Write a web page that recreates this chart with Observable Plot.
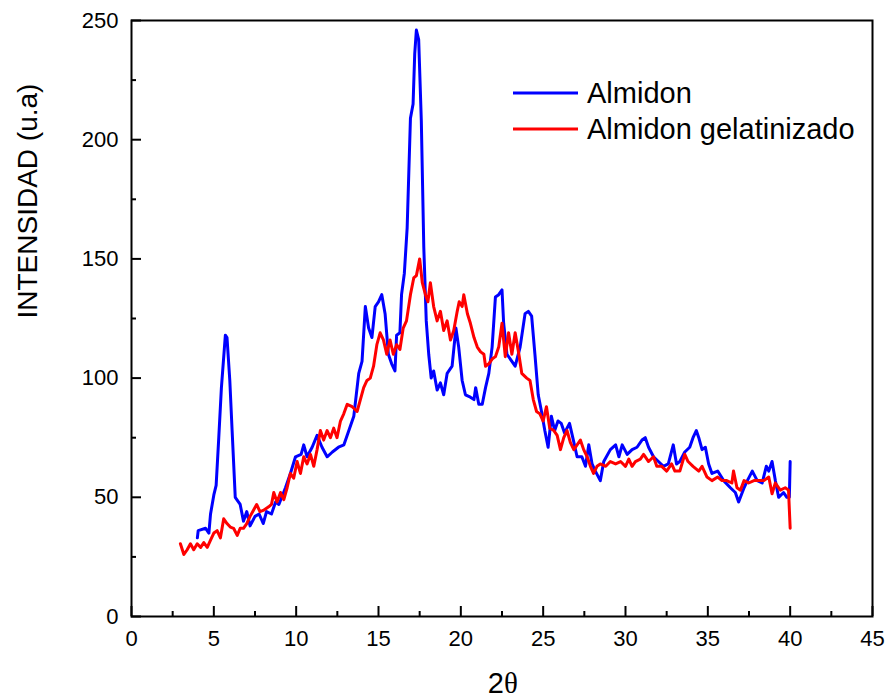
<!DOCTYPE html>
<html><head><meta charset="utf-8">
<script src="https://cdn.jsdelivr.net/npm/d3@7"></script>
<script src="https://cdn.jsdelivr.net/npm/@observablehq/plot@0.6"></script>
<style>
body{margin:0;background:#fff;}
#wrap{position:relative;width:888px;height:698px;}
#legend{position:absolute;left:0;top:0;}
</style></head><body><div id="wrap"><div id="chart"></div><svg id="legend" width="888" height="200"></svg></div>
<script>
const seriesNames = ["Almidon", "Almidon gelatinizado"];
const seriesColors = ["#0000ff", "#ff0000"];

const almidonX = [4.0,4.05,4.5,4.7,4.8,5.0,5.14,5.3,5.46,5.7,5.8,5.97,6.11,6.3,6.6,6.8,7.0,7.2,7.5,7.75,8.0,8.2,8.5,8.75,8.95,9.35,9.65,9.96,10.3,10.46,10.66,10.97,11.27,11.57,11.88,12.2,12.57,12.9,13.2,13.5,13.8,14.0,14.2,14.4,14.6,14.8,15.0,15.2,15.4,15.6,15.8,16.0,16.1,16.3,16.4,16.57,16.74,16.94,17.1,17.2,17.3,17.44,17.6,17.75,17.9,18.05,18.2,18.35,18.56,18.76,18.96,19.17,19.47,19.7,19.87,20.08,20.28,20.58,20.8,20.9,21.09,21.3,21.5,21.7,21.9,22.1,22.3,22.5,22.6,22.8,23.1,23.3,23.6,23.9,24.1,24.3,24.5,24.7,24.9,25.1,25.3,25.5,25.7,25.9,26.1,26.3,26.6,26.8,27.06,27.35,27.57,27.77,27.97,28.17,28.47,28.68,29.08,29.4,29.6,29.8,30.1,30.4,30.7,31.0,31.2,31.4,31.7,32.0,32.3,32.6,32.9,33.1,33.3,33.6,33.9,34.1,34.3,34.45,34.65,34.85,35.05,35.25,35.6,35.96,36.37,36.67,36.87,37.2,37.4,37.7,38.0,38.3,38.55,38.7,38.9,39.1,39.3,39.6,39.8,39.95,40.0];
const almidonY = [33,36,37,35,43,51,55,75,96,118,117,99,78,50,47,40,44,38,42,43,39,44,43,48,47,54,60,67,68,72,67,71,76,71,67,69,71,72,78,84,102,107,130,121,117,130,132,135,127,110,106,103,118,119,135,144,163,209,215,236,246,242,208,155,124,110,100,103,95,98,93,102,105,121,113,99,93,92,91,96,89,89,96,102,113,134,135,137,123,110,107,105,113,127,128,126,110,93,86,78,71,84,78,82,81,77,81,75,67,67,63,72,64,61,57,65,70,72,67,72,68,70,71,74,75,71,67,65,63,64,72,64,65,69,71,75,78,75,70,71,64,60,61,57,54,52,48,54,57,61,57,56,63,61,65,57,50,52,50,50,65];

const gelX = [2.97,3.18,3.38,3.58,3.78,3.99,4.2,4.39,4.6,4.8,5.0,5.2,5.4,5.6,5.8,6.0,6.2,6.42,6.6,6.8,7.0,7.2,7.4,7.6,7.8,8.0,8.33,8.5,8.64,8.84,9.05,9.25,9.45,9.65,9.85,10.06,10.26,10.46,10.66,10.87,11.07,11.27,11.47,11.67,11.88,12.08,12.28,12.48,12.69,12.89,13.1,13.4,13.7,13.9,14.1,14.3,14.5,14.7,14.9,15.1,15.3,15.5,15.7,15.9,16.1,16.3,16.5,16.7,16.94,17.14,17.3,17.5,17.66,17.85,18.0,18.15,18.35,18.56,18.76,18.96,19.17,19.37,19.57,19.78,19.9,20.08,20.18,20.4,20.58,20.8,21.0,21.2,21.4,21.5,21.7,21.9,22.1,22.3,22.5,22.7,22.9,23.1,23.3,23.5,23.7,24.0,24.2,24.4,24.6,24.8,25.0,25.2,25.4,25.65,25.85,26.05,26.25,26.45,26.65,26.86,27.06,27.26,27.46,27.67,27.87,28.06,28.27,28.47,28.8,29.08,29.4,29.7,30.0,30.2,30.4,30.6,30.9,31.1,31.4,31.7,31.9,32.2,32.5,32.8,33.0,33.3,33.6,33.8,34.1,34.45,34.65,34.95,35.25,35.6,35.86,36.15,36.46,36.56,36.77,36.98,37.2,37.48,37.8,38.09,38.4,38.7,38.9,39.1,39.4,39.7,39.9,40.0];
const gelY = [30.5,26,28,30.5,28,30.5,29,31,29,32,35,36,33,41,39,37.5,37,34,37,37,39,42,44.5,47,44,44.5,46,47,52,48,52,49,54,60,58,65,60,67,64,68,63,70,78,74,78,75,79,75,82,85,89,88,86,91,96,99,100,105,114,119,116,110,116,110,114,112,121,124,135,142,143,150,140,135,132,140,130,124,128,120,124,116,120,128,132,130,135,127,123,117,113,111,110,105,106,108,109,113,123,109,119,110,119,111,102,100,99,91,86,85,82,88,79,78,76,70,75,78,73,70,72,74,70,67,63,60,63,64,63,65,64,65,63,66,63,65,66,68,65,67,63,63,61,64,61,61,68,65,63,61,63,58.5,57,58.5,57,57,56,61,54,53,57,56,57,57,57,58.5,51.5,56,53,54,53,37];

const xTicks = [0,5,10,15,20,25,30,35,40,45];
const xMinor = [2.5,7.5,12.5,17.5,22.5,27.5,32.5,37.5,42.5];
const yTicks = [0,50,100,150,200,250];
const yMinor = [25,75,125,175,225];
const xLabel = "2";
const xLabelSymbol = "θ";
const yLabel = "INTENSIDAD (u.a)";

const almidon = almidonX.map((x, i) => ({x, y: almidonY[i]}));
const gel = gelX.map((x, i) => ({x, y: gelY[i]}));

const W = 888, H = 698, mL = 131, mR = 16, mT = 20, mB = 82;
const innerW = W - mL - mR, innerH = H - mT - mB;

const chart = Plot.plot({
  width: W, height: H,
  marginLeft: mL, marginRight: mR, marginTop: mT, marginBottom: mB,
  style: {fontFamily: "'Liberation Sans', Arial, sans-serif", fontSize: "22px", color: "#000", background: "#fff"},
  x: {domain: [0, 45]},
  y: {domain: [0, 250]},
  marks: [
    Plot.line(almidon, {x: "x", y: "y", stroke: seriesColors[0], strokeWidth: 3, strokeLinejoin: "round"}),
    Plot.line(gel, {x: "x", y: "y", stroke: seriesColors[1], strokeWidth: 3, strokeLinejoin: "round"}),
    Plot.tickX(xTicks, {x: d => d, insetTop: innerH - 10, stroke: "#000", strokeWidth: 2}),
    Plot.tickX(xMinor, {x: d => d, insetTop: innerH - 5, stroke: "#000", strokeWidth: 2}),
    Plot.tickY(yTicks, {y: d => d, insetRight: innerW - 10, stroke: "#000", strokeWidth: 2}),
    Plot.tickY(yMinor, {y: d => d, insetRight: innerW - 5, stroke: "#000", strokeWidth: 2}),
    Plot.frame({stroke: "#000", strokeWidth: 2}),
    Plot.axisX({ticks: xTicks, tickSize: 0, tickPadding: 14, label: null}),
    Plot.axisY({ticks: yTicks, tickSize: 0, tickPadding: 13, label: null}),
    Plot.text([yLabel], {frameAnchor: "left", rotate: -90, dx: -103, fontSize: 28, fill: "#000"}),
    Plot.text([xLabel], {frameAnchor: "bottom", textAnchor: "end", lineAnchor: "bottom", dx: 2, dy: 76, fontSize: 29, fill: "#000"}),
    Plot.text([xLabelSymbol], {frameAnchor: "bottom", textAnchor: "start", lineAnchor: "bottom", dx: 2, dy: 76, fontSize: 29, fontFamily: "'Liberation Serif', 'DejaVu Serif', serif", fill: "#000"})
  ]
});
document.getElementById("chart").appendChild(chart);

// legend
const lg = d3.select("#legend");
seriesNames.forEach((name, i) => {
  const cy = 93 + i * 36;
  lg.append("line").attr("x1", 513).attr("x2", 578).attr("y1", cy).attr("y2", cy)
    .attr("stroke", seriesColors[i]).attr("stroke-width", 3);
  lg.append("text").attr("x", 587).attr("y", cy + 10).text(name)
    .attr("font-family", "'Liberation Sans', Arial, sans-serif").attr("font-size", 29).attr("fill", "#000");
});
</script></body></html>
